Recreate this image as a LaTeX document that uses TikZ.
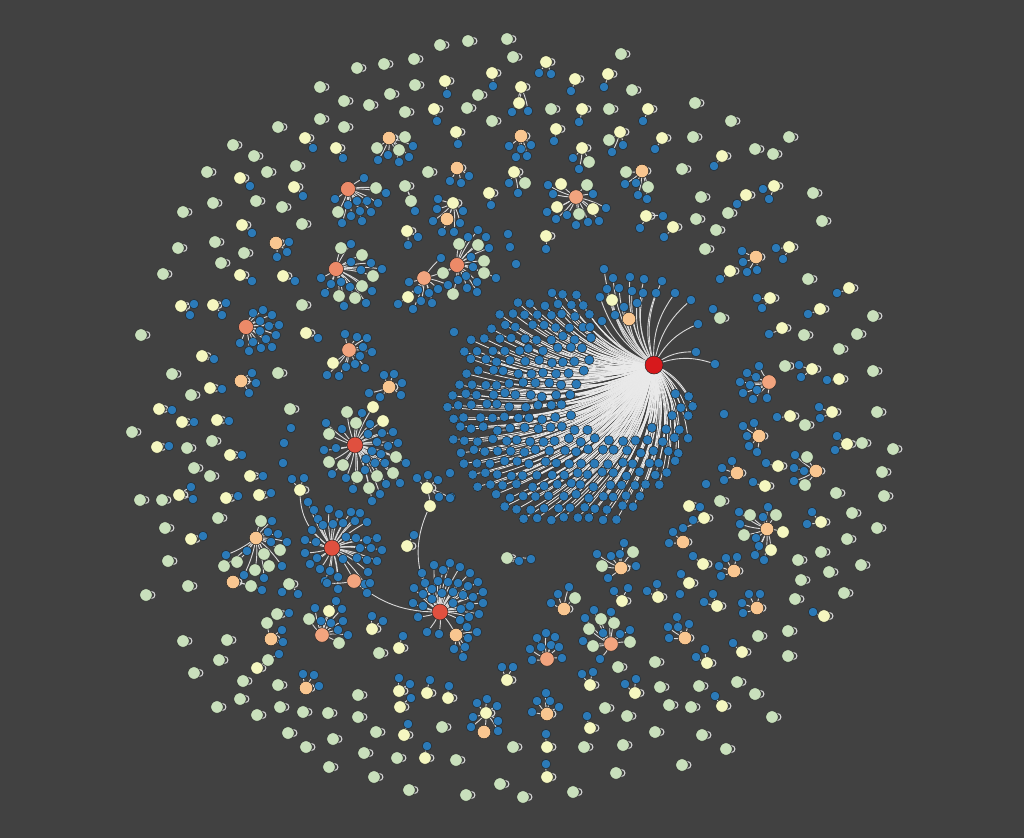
\documentclass[tikz,border=0pt]{standalone}
\definecolor{cbg}{HTML}{414141}
\definecolor{cbl}{HTML}{2B7AB8}
\definecolor{cgn}{HTML}{C9E0BC}
\definecolor{cyl}{HTML}{F5F7C0}
\definecolor{cpc}{HTML}{F9C690}
\definecolor{csb}{HTML}{F2A47E}
\definecolor{csa}{HTML}{EC8A68}
\definecolor{crd}{HTML}{E0503F}
\definecolor{cbig}{HTML}{D7191C}
\definecolor{cout}{HTML}{262626}
\definecolor{ced}{HTML}{DADADA}
\definecolor{clp}{HTML}{D2D2D2}
\definecolor{cbe}{HTML}{E9E9E9}
\tikzset{
  nd/.style={circle,draw=cout,line width=0.5pt,inner sep=0pt},
  bl/.style={nd,fill=cbl,minimum size=9.5pt},
  gn/.style={nd,fill=cgn,minimum size=12.5pt},
  yl/.style={nd,fill=cyl,minimum size=12.5pt},
  pc/.style={nd,fill=cpc,minimum size=13.5pt},
  sb/.style={nd,fill=csb,minimum size=14.5pt},
  sa/.style={nd,fill=csa,minimum size=15pt},
  rd/.style={nd,fill=crd,minimum size=16pt},
  hubbig/.style={nd,fill=cbig,minimum size=18pt},
  ed/.style={draw=ced,line width=0.9pt},
  bged/.style={draw=cbe,line width=0.8pt},
  lpc/.style={draw=clp,line width=1.1pt}
}
\newcount\xc
\newif\ifxone
\def\xanc{}
\def\xcur{}
\def\xbend{8}
\newcommand\xmk[3]{\global\advance\xc by 1\relax\xdef\xcur{n\the\xc}\ifxone\coordinate (\xcur) at (#2,#3);\else\node[#1] (\xcur) at (#2,#3) {};\fi}
\newcommand\xlp{\ifxone\draw[lpc] (\xcur) ++(5.5,0) circle[radius=3.4pt];\fi}
\newcommand\xln{\ifxone\draw[ed] (\xanc) to[bend left=\xbend] (\xcur);\fi}
\newcommand\xA{\xdef\xanc{\xcur}}
\newcommand\xG[2]{\xmk{gn}{#1}{#2}\xlp\xA}
\newcommand\xY[2]{\xmk{yl}{#1}{#2}\xlp\xA}
\newcommand\xP[2]{\xmk{pc}{#1}{#2}\xlp\xA}
\newcommand\xH[3]{\xmk{#1}{#2}{#3}\xA}
\newcommand\xB[2]{\xmk{bl}{#1}{#2}\xln}
\newcommand\xS[3]{\xmk{#1}{#2}{#3}\xln}
\newcommand\xI[2]{\xmk{bl}{#1}{#2}}
\def\xdata{%
\ifxone\coordinate (BH) at (654,365);\else\node[hubbig] (BH) at (654,365) {};\fi
\pgfmathsetseed{11}%
\foreach \r in {0,...,21}{
 \foreach \c in {0,...,19}{
  \pgfmathsetmacro\px{446+\c*13+mod(\r,2)*6.5+2.2*rand}
  \pgfmathsetmacro\py{293+\r*11.3+2.2*rand}
  \pgfmathsetmacro\ea{(\px-570)/123}
  \pgfmathsetmacro\eb{(\py-410)/119}
  \pgfmathsetmacro\va{(\px-622)/48}
  \pgfmathsetmacro\vb{(\py-398)/36}
  \pgfmathtruncatemacro\ok{and(\ea*\ea+\eb*\eb<1,and(not(and(\px>592,\py<392)),not(\va*\va+\vb*\vb<1)))}
  \ifnum\ok=1
    \ifxone
      \coordinate (L\r c\c) at (\px,\py);
      \draw[bged] (BH) to[bend left=18] (L\r c\c);
    \else
      \node[bl] (L\r c\c) at (\px,\py) {};
    \fi
  \fi
 }
}%
\xdef\xanc{BH}\def\xbend{20}%
\xB{604}{269}\xB{613}{278}\xB{630}{277}\xB{644}{279}\xB{662}{281}\xB{607}{289}\xB{619}{288}
\xB{632}{291}\xB{643}{293}\xB{656}{293}\xB{675}{293}\xB{691}{300}\xB{600}{297}\xB{637}{303}
\xB{624}{307}\xB{615}{315}\xB{698}{324}\xB{696}{352}\xB{715}{364}\xB{590}{327}\xB{602}{321}
\xS{yl}{612}{300}\xS{pc}{629}{319}\def\xbend{8}%
\xI{454}{332}\xI{450}{473}\xI{451}{497}
% top left
\xG{440}{45}\xG{468}{41}\xG{507}{39}\xG{513}{57}
\xG{357}{68}\xG{384}{64}\xG{414}{59}
\xY{492}{73}\xB{493}{86}
\xY{445}{81}\xB{447}{94}
\xG{320}{87}\xG{344}{101}\xG{369}{105}\xG{390}{94}\xG{415}{85}\xG{478}{95}\xG{467}{108}
\xY{434}{109}\xB{437}{121}
\xG{405}{112}\xG{492}{121}\xG{320}{119}\xG{344}{127}\xG{278}{127}
\xY{305}{138}\xB{313}{148}
\xY{336}{148}\xB{343}{158}
\xP{389}{138}\xS{gn}{405}{137}\xS{gn}{377}{148}\xS{gn}{399}{150}\xB{413}{146}\xB{388}{155}\xB{378}{160}\xB{399}{162}\xB{409}{157}
\xY{456}{132}\xB{458}{144}
\xG{233}{145}\xG{254}{156}\xG{296}{166}\xG{207}{172}
\xY{240}{178}\xB{250}{186}
\xG{267}{172}
\xY{294}{187}\xB{303}{196}
\xG{256}{201}\xG{282}{207}\xG{213}{203}\xG{183}{212}
\xH{sa}{348}{189}\xB{364}{178}\xS{gn}{376}{188}\xB{386}{193}\xB{335}{199}\xB{348}{205}\xB{357}{201}\xB{367}{201}\xB{378}{203}\xS{gn}{338}{212}\xB{351}{216}\xB{360}{211}\xB{371}{212}\xB{342}{223}\xB{362}{221}
\xG{428}{172}
\xP{457}{168}\xB{450}{181}\xB{461}{183}\xB{469}{176}
\xG{405}{186}\xS{gn}{411}{201}\xB{415}{211}
\xY{489}{193}\xB{491}{205}
\xY{453}{203}\xS{pc}{447}{219}\xB{438}{199}\xB{437}{209}\xB{463}{211}\xB{433}{221}\xB{442}{232}\xB{454}{232}\xB{460}{223}
\xY{407}{231}\xB{418}{237}\xB{408}{245}
\xY{242}{225}\xB{252}{233}
\xG{302}{224}\xG{178}{248}\xG{215}{242}
\xP{276}{243}\xB{289}{242}\xB{287}{252}\xB{277}{257}
\xG{244}{253}\xG{221}{263}
\xY{240}{275}\xB{252}{281}
\xY{283}{276}\xB{295}{281}
\xG{163}{274}
\xH{sa}{336}{269}\xS{gn}{341}{248}\xB{351}{244}\xS{gn}{362}{255}\xB{371}{263}\xB{382}{269}\xB{351}{262}\xB{361}{270}\xS{gn}{373}{276}\xB{321}{278}\xB{331}{284}\xB{341}{282}\xB{350}{287}\xS{gn}{362}{286}\xB{372}{291}\xB{325}{293}\xS{gn}{339}{296}\xS{gn}{355}{298}\xB{344}{306}\xB{366}{303}
\xH{sa}{457}{265}\xS{gn}{459}{244}\xS{gn}{478}{245}\xB{468}{237}\xB{478}{230}\xB{486}{237}\xB{489}{248}\xS{gn}{484}{261}\xB{471}{257}\xB{473}{267}\xS{gn}{484}{273}\xB{496}{278}\xB{466}{276}\xB{477}{282}\xS{gn}{443}{273}\xS{gn}{453}{294}\xB{467}{288}\xB{477}{292}\xB{458}{280}
\xS{sb}{424}{278}\xA\xB{441}{258}\xB{409}{282}\xB{418}{290}\xB{429}{293}\xB{438}{289}\xB{421}{301}\xB{432}{303}\xS{yl}{408}{297}\xB{398}{304}\xB{413}{309}\xB{448}{285}
\xG{302}{305}
\xY{181}{306}\xB{194}{304}\xB{190}{315}
\xY{213}{305}\xB{226}{303}\xB{222}{315}
\xI{508}{234}\xI{510}{247}\xI{516}{264}
% top right
\xG{621}{54}
\xY{546}{62}\xB{539}{73}\xB{551}{74}
\xY{575}{79}\xB{571}{91}
\xY{608}{74}\xB{604}{87}
\xG{632}{90}
\xY{521}{87}\xS{yl}{519}{103}\xB{512}{112}\xB{528}{111}
\xG{551}{109}
\xY{582}{109}\xB{579}{122}
\xG{609}{109}
\xY{648}{109}\xB{643}{121}
\xG{695}{103}\xG{731}{121}
\xP{521}{136}\xB{509}{146}\xB{521}{149}\xB{531}{145}\xB{516}{157}\xB{527}{156}
\xY{556}{129}\xB{554}{141}
\xY{582}{148}\xB{573}{158}\xS{gn}{589}{162}\xB{579}{169}
\xY{620}{132}\xS{gn}{609}{140}\xB{623}{145}\xB{612}{152}
\xY{662}{138}\xB{655}{149}
\xG{693}{137}\xG{789}{137}\xG{755}{149}\xG{773}{154}
\xY{722}{156}\xB{714}{166}
\xG{682}{169}
\xY{514}{172}\xS{gn}{525}{183}\xB{509}{183}\xB{518}{193}
\xP{642}{171}\xS{gn}{626}{172}\xB{625}{184}\xB{636}{183}\xS{gn}{648}{187}\xB{638}{195}\xB{647}{199}
\xH{sb}{576}{197}\xS{yl}{561}{184}\xS{gn}{587}{185}\xB{548}{185}\xB{553}{194}\xB{593}{194}\xS{yl}{557}{207}\xS{gn}{579}{214}\xS{yl}{593}{209}\xB{606}{208}\xB{547}{212}\xB{556}{219}\xB{567}{215}\xB{576}{225}\xB{588}{222}\xB{599}{221}
\xG{701}{197}
\xY{746}{195}\xB{737}{204}
\xY{774}{186}\xB{763}{189}\xB{769}{199}
\xG{813}{193}\xG{728}{213}\xG{696}{219}\xG{716}{230}\xG{822}{221}
\xY{646}{216}\xB{640}{228}\xB{663}{216}
\xY{673}{227}\xB{664}{237}
\xY{546}{236}\xB{546}{249}
\xG{705}{249}
\xP{756}{257}\xB{742}{251}\xB{743}{262}\xB{747}{272}\xB{757}{270}
\xY{789}{247}\xB{776}{248}\xB{783}{259}
\xY{730}{271}\xB{720}{279}
\xG{808}{279}
\xY{849}{288}\xB{837}{293}
\xY{770}{298}\xB{757}{298}\xB{762}{308}
\xY{820}{309}\xB{808}{314}
\xG{873}{316}
\xG{720}{318}\xB{713}{309}
\xY{782}{328}\xB{769}{334}
% right
\xG{804}{335}\xG{857}{334}\xG{839}{349}\xG{873}{371}
\xH{sb}{769}{382}\xB{759}{366}\xB{747}{373}\xB{756}{377}\xB{740}{382}\xB{750}{385}\xB{743}{393}\xB{757}{390}\xB{753}{399}\xB{767}{398}
\xG{785}{366}
\xY{812}{369}\xB{799}{365}\xB{801}{377}
\xY{839}{379}\xB{827}{380}
\xI{724}{414}
\xY{790}{416}\xB{777}{417}
\xG{805}{425}
\xY{832}{412}\xB{819}{407}\xB{820}{418}
\xG{877}{412}
\xP{759}{436}\xB{743}{426}\xB{754}{423}\xB{747}{436}\xB{749}{446}\xB{757}{452}
\xY{847}{444}\xB{837}{436}\xB{835}{450}
\xG{862}{443}\xG{893}{449}
\xY{778}{466}\xB{766}{463}
\xP{816}{471}\xS{gn}{807}{457}\xB{795}{455}\xB{794}{468}\xB{804}{471}\xB{794}{481}\xS{gn}{805}{485}
\xP{737}{473}\xB{732}{461}\xB{722}{468}\xB{724}{480}
\xY{765}{486}\xB{753}{482}
\xI{706}{484}
\xG{882}{472}\xG{836}{493}\xG{884}{496}\xG{720}{501}
\xY{689}{506}\xB{700}{507}
\xY{704}{518}\xB{693}{520}\xB{683}{528}
\xH{pc}{767}{529}\xS{gn}{750}{515}\xB{739}{512}\xB{768}{507}\xS{gn}{776}{515}\xS{yl}{783}{532}\xS{gn}{744}{535}\xB{740}{524}\xB{756}{538}\xB{763}{517}\xB{759}{546}\xS{yl}{771}{550}\xB{755}{555}\xB{764}{560}
\xY{821}{522}\xB{812}{512}\xB{807}{524}
\xG{852}{513}\xG{877}{528}\xG{847}{539}
\xP{683}{542}\xB{673}{532}\xB{669}{543}
\xG{821}{552}\xG{798}{560}\xG{861}{565}\xG{829}{572}
\xY{703}{564}\xB{693}{556}
\xP{734}{571}\xB{726}{558}\xB{737}{557}\xB{719}{566}\xB{721}{576}
\xY{689}{583}\xB{681}{574}
\xG{801}{580}\xG{844}{593}\xG{795}{599}
\xY{717}{606}\xB{704}{602}\xB{713}{594}
\xP{757}{608}\xB{749}{594}\xB{760}{594}\xB{742}{603}\xB{743}{613}
\xY{824}{616}\xB{813}{612}
% bottom right
\xG{507}{558}\xB{519}{561}\xB{531}{559}
\xP{621}{568}\xB{597}{554}\xB{611}{556}\xB{620}{554}\xB{624}{543}\xS{gn}{633}{552}\xS{gn}{602}{566}\xB{636}{566}\xB{608}{578}
\xY{658}{597}\xB{647}{591}\xB{657}{584}
\xI{680}{594}
\xY{622}{601}\xB{614}{591}\xB{628}{588}
\xP{564}{609}\xS{gn}{575}{598}\xB{558}{594}\xB{569}{587}\xB{551}{603}
\xH{sb}{611}{644}\xS{gn}{601}{619}\xS{gn}{614}{623}\xB{594}{610}\xB{611}{612}\xB{585}{618}\xS{gn}{589}{629}\xB{603}{633}\xB{620}{634}\xB{630}{630}\xS{gn}{630}{642}\xB{583}{641}\xS{gn}{593}{646}\xB{600}{659}
\xP{685}{638}\xB{677}{617}\xB{668}{627}\xB{678}{627}\xB{689}{624}\xB{669}{638}
\xH{sb}{547}{659}\xB{546}{633}\xB{537}{638}\xB{555}{637}\xB{541}{647}\xB{551}{645}\xB{559}{647}\xB{530}{649}\xB{532}{660}\xB{562}{658}
\xY{507}{680}\xB{502}{667}\xB{513}{667}
\xY{590}{685}\xB{582}{674}\xB{593}{672}
\xY{635}{693}\xB{625}{684}\xB{636}{679}
\xY{707}{663}\xB{696}{657}\xB{705}{649}
\xY{742}{652}\xB{733}{643}
\xG{758}{636}\xG{788}{631}\xG{788}{656}\xG{618}{667}\xG{655}{662}\xG{660}{687}\xG{699}{686}\xG{737}{682}\xG{755}{694}
\xY{722}{706}\xB{715}{696}
\xG{669}{705}\xG{691}{707}\xG{772}{717}
\xP{547}{714}\xB{546}{693}\xB{537}{701}\xB{550}{701}\xB{532}{712}\xB{559}{707}
\xG{605}{708}\xG{627}{716}
\xY{590}{728}\xB{587}{716}
\xG{655}{732}\xG{702}{735}\xG{726}{749}
\xY{547}{747}\xB{546}{734}
\xG{513}{747}\xG{584}{747}\xG{623}{745}
\xY{547}{777}\xB{546}{764}
\xG{682}{765}\xG{616}{773}\xG{500}{784}\xG{523}{797}\xG{573}{792}
% left
\xG{141}{335}
\xH{sa}{246}{327}\xB{253}{313}\xB{263}{310}\xB{272}{315}\xB{260}{321}\xB{269}{326}\xB{279}{325}\xB{260}{331}\xB{276}{335}\xB{253}{342}\xB{266}{339}\xB{240}{343}\xB{249}{351}\xB{261}{348}\xB{272}{347}
\xY{306}{333}\xB{318}{338}
\xH{sb}{349}{350}\xB{345}{334}\xB{357}{337}\xB{367}{338}\xB{363}{347}\xB{372}{352}\xB{360}{356}\xS{yl}{333}{363}\xB{355}{364}\xB{365}{368}\xB{346}{367}\xB{327}{375}\xB{339}{376}
\xY{202}{356}\xB{214}{359}
\xG{172}{374}
\xP{241}{381}\xB{252}{373}\xB{256}{383}\xB{249}{393}
\xG{278}{373}
\xY{210}{388}\xB{222}{389}
\xG{191}{395}
\xY{159}{409}\xB{172}{410}
\xY{182}{422}\xB{194}{422}
\xY{217}{420}\xB{229}{421}
\xG{290}{409}\xG{132}{432}
\xY{157}{447}\xB{169}{446}
\xG{187}{448}\xG{212}{441}
\xY{230}{455}\xB{242}{455}
\xI{291}{428}\xI{284}{443}\xI{283}{463}
\xG{194}{468}\xG{210}{476}
\xY{250}{476}\xB{263}{476}
\xY{179}{495}\xB{191}{487}\xB{193}{499}
\xG{140}{500}\xG{162}{500}
\xY{226}{498}\xB{238}{496}
\xY{259}{495}\xB{271}{493}
\xG{218}{518}\xG{165}{528}
\xY{191}{539}\xB{203}{536}
\xG{168}{561}
\xY{407}{546}\xB{414}{535}
\xP{389}{387}\xB{384}{375}\xB{394}{374}\xB{402}{383}\xB{401}{395}\xB{369}{393}\xB{380}{397}
\xH{rd}{355}{445}\xS{gn}{347}{412}\xS{gn}{356}{423}\xS{yl}{373}{407}\xS{yl}{383}{421}\xS{gn}{329}{434}\xS{gn}{329}{462}\xS{gn}{343}{465}\xS{gn}{357}{477}\xS{gn}{377}{476}\xS{gn}{369}{488}\xS{gn}{393}{473}\xS{gn}{396}{457}
\xB{326}{423}\xB{342}{429}\xB{336}{448}\xB{324}{450}\xB{332}{474}\xB{346}{478}\xB{353}{489}\xB{362}{413}\xB{370}{424}\xB{368}{434}\xB{382}{433}\xB{393}{432}\xB{377}{442}\xB{388}{446}\xB{398}{443}\xB{372}{451}\xB{381}{454}\xB{366}{459}\xB{375}{463}\xB{385}{463}\xB{406}{463}\xB{386}{484}\xB{400}{483}\xB{380}{494}\xB{372}{501}\xB{365}{470}
\xY{300}{490}\xdef\yA{\xcur}\xB{292}{479}\xB{304}{478}
\xH{rd}{332}{548}\xdef\hA{\xcur}%
\xB{308}{502}\xB{314}{510}\xB{318}{519}\xB{329}{509}\xB{339}{514}\xB{351}{512}\xB{360}{513}\xB{312}{530}\xB{323}{525}\xB{333}{524}\xB{343}{523}\xB{355}{521}\xB{367}{522}\xB{305}{540}\xB{316}{542}\xB{346}{537}\xB{356}{538}\xB{367}{540}\xB{377}{538}\xB{305}{553}\xB{317}{558}\xB{360}{548}\xB{371}{548}\xB{382}{550}\xB{310}{564}\xB{320}{569}\xB{330}{571}\xB{343}{559}\xB{357}{558}\xB{367}{560}\xB{377}{561}\xB{325}{581}\xB{338}{577}\xB{368}{572}\xB{338}{589}\xB{365}{584}
\xS{sb}{354}{581}\xdef\sA{\xcur}\xA\xB{367}{593}\xB{327}{583}\xB{370}{583}
\xY{427}{488}\xB{417}{478}\xB{428}{475}\xB{438}{480}\xS{yl}{430}{506}\xdef\yB{\xcur}\xB{439}{497}\xB{450}{498}
\xH{rd}{440}{612}\xdef\hB{\xcur}%
\xB{422}{573}\xB{434}{565}\xB{443}{570}\xB{450}{563}\xB{460}{567}\xB{470}{573}
\xB{414}{588}\xB{425}{583}\xB{432}{589}\xB{438}{581}\xB{448}{582}\xB{458}{583}\xB{468}{586}\xB{478}{582}\xB{483}{592}\xB{423}{594}\xB{432}{599}\xB{442}{593}\xB{453}{592}\xB{463}{595}\xB{473}{597}\xB{413}{603}\xB{423}{606}\xB{453}{603}\xB{461}{609}\xB{470}{606}\xB{483}{603}\xB{479}{614}\xB{469}{617}\xB{418}{617}\xB{460}{620}\xB{427}{632}\xB{439}{634}
\xS{pc}{456}{635}\xA\xB{467}{627}\xB{477}{632}\xB{468}{638}\xB{465}{647}\xB{454}{649}\xB{463}{657}
\ifxone
\draw[ed] (\yA) to[bend right=30] (\hA);
\draw[ed] (\yB) to[bend right=32] (\hB);
\draw[ed] (\sA) to[bend right=20] (\hB);
\fi
\xH{pc}{256}{538}\xS{gn}{261}{521}\xB{272}{521}\xB{268}{532}\xB{278}{534}\xB{271}{542}\xB{287}{542}\xS{gn}{280}{550}\xS{gn}{264}{554}\xB{247}{551}\xB{226}{555}\xS{gn}{237}{562}\xS{gn}{224}{566}\xB{244}{575}\xS{gn}{255}{570}\xS{gn}{269}{566}\xB{282}{566}\xB{264}{578}
\xP{233}{582}\xS{gn}{251}{586}\xB{262}{590}
\xG{289}{584}\xB{282}{592}\xB{298}{594}
\xG{188}{586}\xG{146}{595}
\xG{277}{614}\xB{289}{613}
\xP{271}{639}\xS{gn}{267}{623}\xB{282}{630}\xB{283}{642}
\xH{sb}{322}{635}\xS{yl}{329}{611}\xS{gn}{309}{619}\xB{315}{608}\xB{336}{601}\xB{342}{609}\xB{321}{621}\xB{331}{623}\xB{343}{621}\xB{338}{630}\xB{348}{635}\xS{gn}{339}{643}
\xY{372}{629}\xB{372}{616}\xB{383}{621}
\xY{399}{648}\xB{403}{636}
\xG{379}{653}
\xG{183}{641}\xG{227}{640}\xG{219}{660}
\xY{257}{668}\xS{gn}{268}{660}\xB{279}{654}
\xG{194}{673}\xG{243}{681}
\xP{306}{688}\xB{303}{674}\xB{314}{675}\xB{319}{686}
\xG{278}{685}\xG{240}{699}\xG{217}{707}\xG{257}{715}\xG{280}{707}\xG{303}{712}\xG{328}{713}\xG{358}{695}\xG{358}{717}
\xY{399}{691}\xB{399}{678}\xB{410}{684}
\xY{400}{707}\xB{411}{698}
\xY{427}{693}\xB{430}{680}
\xY{448}{698}\xB{449}{686}
\xY{486}{713}\xS{pc}{484}{732}\xB{477}{703}\xB{487}{699}\xB{497}{706}\xB{473}{717}\xB{498}{721}\xB{471}{727}\xB{498}{731}
\xG{442}{727}\xG{376}{732}
\xY{404}{735}\xB{408}{724}
\xG{288}{733}\xG{333}{739}\xG{306}{747}\xG{364}{753}\xG{397}{758}
\xY{425}{758}\xB{427}{746}
\xG{456}{760}\xG{329}{767}\xG{374}{777}\xG{409}{790}\xG{466}{795}
}
\begin{document}
\begin{tikzpicture}[x=1pt,y=-1pt]
\useasboundingbox (0,0) rectangle (1024,838);
\fill[cbg] (0,0) rectangle (1024,838);
\global\xc=0 \xonetrue
\xdata
\global\xc=0 \xonefalse
\xdata
\end{tikzpicture}
\end{document}
